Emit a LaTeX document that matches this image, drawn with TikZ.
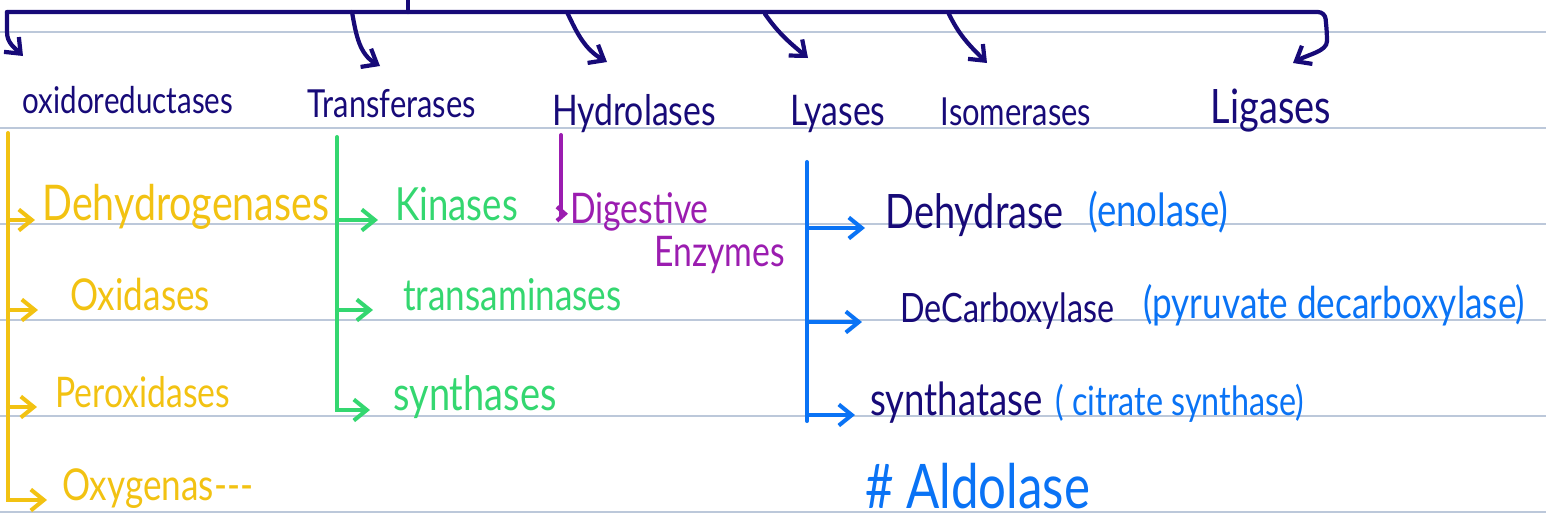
\documentclass[tikz,border=0pt]{standalone}
\usepackage{fontspec}
\setmainfont{Lato}[FakeStretch=0.8]
\usetikzlibrary{arrows.meta}

\definecolor{navy}{RGB}{23,10,120}
\definecolor{ruleblue}{RGB}{188,200,218}
\definecolor{oxiyellow}{RGB}{242,194,18}
\definecolor{transgreen}{RGB}{52,215,112}
\definecolor{hydropurple}{RGB}{155,29,176}
\definecolor{lyaseblue}{RGB}{10,115,245}

\newcommand{\handsize}[1]{\fontsize{#1}{#1}\selectfont}

\tikzset{
  ruling/.style={draw=ruleblue, line width=1.4pt},
  bracket/.style={draw=navy, line width=2.4pt},
  hookarrow/.style={bracket, ->},
  cls/.style={text=navy, anchor=base, inner sep=4pt},
  enz/.style={text=#1, anchor=base west, inner sep=4pt},
  twig/.style={draw=#1, line width=2.3pt, ->}
}

\begin{document}
\begin{tikzpicture}[x=0.02cm, y=-0.02cm, >={Straight Barb[length=2.6mm,width=4.2mm]}, line cap=round]
  % 1. Ruled paper
  \useasboundingbox (0,0) rectangle (1546,525);
  \foreach \y in {32,128,...,512}
    \draw[ruling] (0,\y) -- (1546,\y);

  % 2. The six enzyme classes
  \node[cls, font=\handsize{21}] (oxi) at (128,113) {oxidoreductases};
  \node[cls, font=\handsize{22}] (trans) at (392,117) {Transferases};
  \node[cls, font=\handsize{24}] (hydro) at (634,125) {Hydrolases};
  \node[cls, font=\handsize{24}] (lya) at (838,125) {Lyases};
  \node[cls, font=\handsize{22}] (iso) at (1016,125) {Isomerases};
  \node[cls, font=\handsize{27}] (liga) at (1271,123) {Ligases};

  % 3. Top bracket with its hooks
  \coordinate (bl) at (7,12);
  \coordinate (br) at (1325,12);
  \coordinate (stem) at (408,12);
  \coordinate (h2) at (352,12);
  \coordinate (h3) at (567,12);
  \coordinate (h4) at (765,14);
  \coordinate (h5) at (948,12);
  \coordinate (t1) at (23,56);
  \coordinate (t2) at (380,66);
  \coordinate (t3) at (607,62);
  \coordinate (t4) at (808,58);
  \coordinate (t5) at (987,63);
  \coordinate (t6) at (1293,63);
  \draw[bracket] (stem) -- ++(0,-12);
  \draw[hookarrow, rounded corners=4] (bl) -- (br) -- ++(2,22) to[out=-90,in=30] (t6);
  \draw[hookarrow] (bl) -- ++(0,20) to[out=-90,in=135] (t1);
  \draw[hookarrow] (h2) to[out=-80,in=150] (t2);
  \draw[hookarrow] (h3) to[out=-65,in=150] (t3);
  \draw[hookarrow] (h4) to[out=-55,in=140] (t4);
  \draw[hookarrow] (h5) to[out=-65,in=135] (t5);

  % 4. Oxidoreductases
  \coordinate (ytop) at (8,133);
  \node[enz=oxiyellow, font=\handsize{28}] (deh) at (35,220) {Dehydrogenases};
  \node[enz=oxiyellow, font=\handsize{25}] (oxd) at (63,310) {Oxidases};
  \node[enz=oxiyellow, font=\handsize{24}] (per) at (48,407) {Peroxidases};
  \node[enz=oxiyellow, font=\handsize{25}] (oxy) at (55,500) {Oxygenas-{}-{}-};
  \draw[twig=oxiyellow, shorten >=1.6mm] (ytop) |- (oxy.base west);
  \draw[twig=oxiyellow] (ytop |- deh.base west) -- (deh.base west);
  \draw[twig=oxiyellow, shorten >=5mm] (ytop |- oxd.base west) -- (oxd.base west);
  \draw[twig=oxiyellow, shorten >=2.2mm] (ytop |- per.base west) -- (per.base west);

  % 5. Transferases
  \coordinate (gtop) at (337,137);
  \node[enz=transgreen, font=\handsize{26}] (rin) at (388,220) {Kinases};
  \node[enz=transgreen, font=\handsize{25}] (trm) at (396,310) {transaminases};
  \node[enz=transgreen, font=\handsize{27}] (syn) at (386,410) {synthases};
  \draw[twig=transgreen, shorten >=3.2mm] (gtop) |- (syn.base west);
  \draw[twig=transgreen, shorten >=2mm] (gtop |- rin.base west) -- (rin.base west);
  \draw[twig=transgreen, shorten >=4.6mm] (gtop |- trm.base west) -- (trm.base west);

  % 6. Hydrolases
  \coordinate (ptop) at (561,135);
  \node[enz=hydropurple, font=\handsize{24}, align=left, inner sep=1pt] (dig) at (568,266) {Digestive\\\hspace*{48pt}Enzymes};
  \draw[twig=hydropurple, -{Straight Barb[length=1.6mm,width=2.8mm]}] (ptop) |- (dig.170);

  % 7. Lyases
  \coordinate (btop) at (807,162);
  \coordinate (bbot) at (807,421);
  \draw[twig=lyaseblue, -] (btop) -- (bbot);
  \node[enz=navy, font=\handsize{27}] (dhy) at (878,228) {Dehydrase};
  \node[enz=navy, font=\handsize{23}] (dcb) at (893,322) {DeCarboxylase};
  \node[enz=navy, font=\handsize{26}] (sth) at (863,415) {synthatase};
  \node[enz=lyaseblue, font=\handsize{26}] (eno) at (1081,226) {(enolase)};
  \node[enz=lyaseblue, font=\handsize{25}] (pyr) at (1136,318) {(pyruvate decarboxylase)};
  \node[enz=lyaseblue, font=\handsize{23}] (cit) at (1048,415) {( citrate synthase)};
  \node[enz=lyaseblue, font=\handsize{35}] (ald) at (858,508) {\# Aldolase};
  \draw[twig=lyaseblue, shorten >=2.6mm] (btop |- dhy.base west) -- (dhy.base west);
  \draw[twig=lyaseblue, shorten >=6.2mm] (btop |- dcb.base west) -- (dcb.base west);
  \draw[twig=lyaseblue, shorten >=1.6mm] (btop |- sth.base west) -- (sth.base west);
\end{tikzpicture}
\end{document}
